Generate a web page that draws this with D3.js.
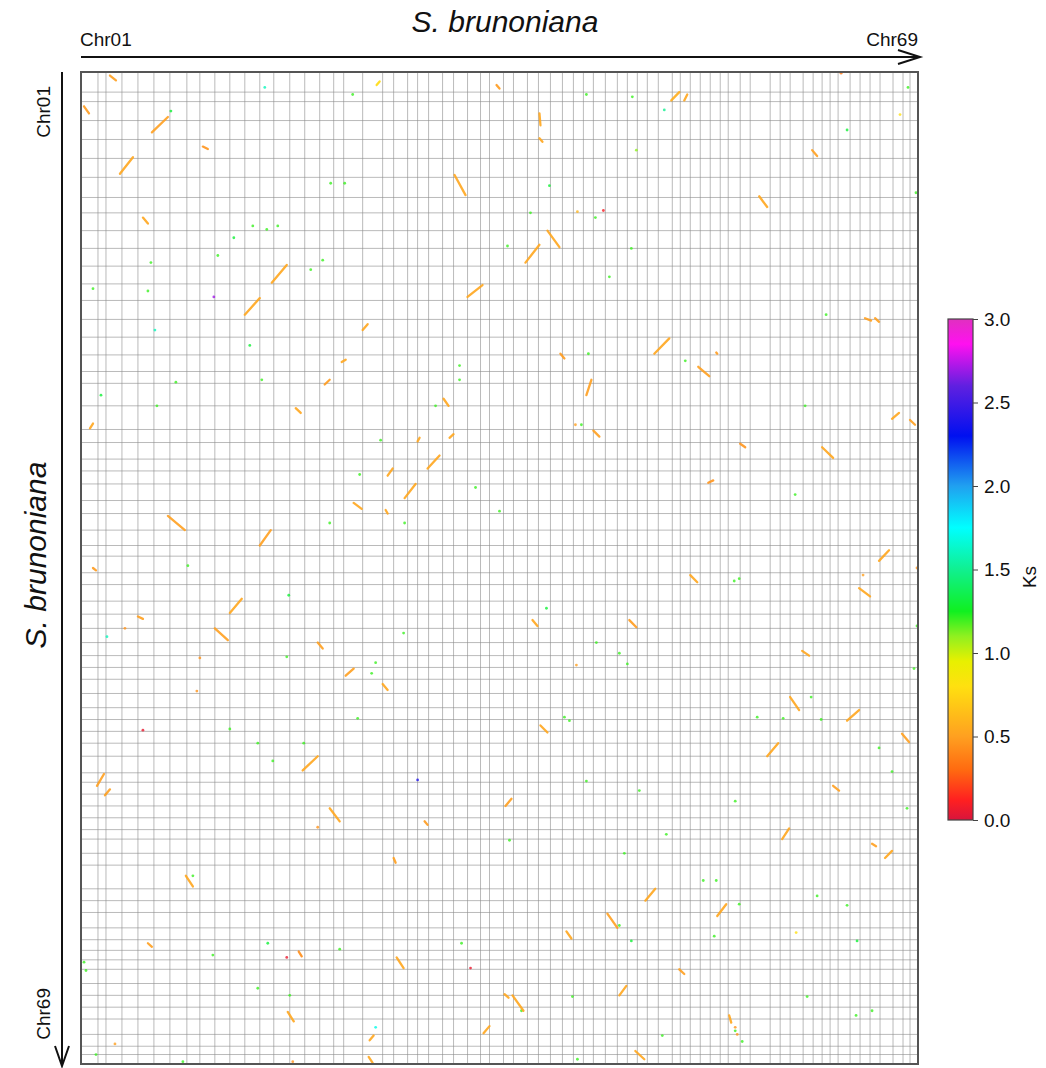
<!DOCTYPE html>
<html>
<head>
<meta charset="utf-8">
<script src="https://cdn.jsdelivr.net/npm/d3@7"></script>
<style>
  html, body { margin: 0; padding: 0; background: #fff; }
  svg { display: block; font-family: "Liberation Sans", Arial, sans-serif; }
</style>
</head>
<body>
<svg id="chart" width="1046" height="1068"></svg>
<script>
// ---------------- data ----------------
const speciesName = "S. brunoniana";
const endLabels = ["Chr01", "Chr69"];
// relative chromosome lengths (same genome on both axes), Chr01..Chr69
const chrLengths = [17,8,16,16,16,16,17,13,15,15,15,15,14,16,15,15,14,10,19,20,
  11,14,10,11,14,11,14,13,9,14,10,14,11,12,12,11,10,10,12,12,
  10,10,10,11,14,8,10,10,10,10,8,12,10,20,10,10,13,10,9,8,
  8,12,10,10,10,13,10,7,8];
// syntenic blocks: [x1, y1, x2, y2, Ks] in genome coordinates
const blocks = [
  [29,3,35,7,0.42],[3,29,8,35,0.40],[71,51,87,38,0.42],[39,86,52,72,0.45],
  [122,63,127,65,0.38],[62,123,67,128,0.45],[296,11,299,8,0.7],[416,11,419,14,0.40],
  [374,87,385,104,0.45],[445,161,459,146,0.45],[467,134,479,148,0.45],[387,190,402,180,0.45],
  [591,24,599,17,0.48],[604,24,607,19,0.45],[459,35,460,45,0.45],[459,56,462,59,0.45],
  [732,66,737,71,0.42],[679,105,687,114,0.45],[164,205,179,191,0.45],[191,178,206,163,0.45],
  [282,218,287,213,0.45],[261,245,265,243,0.45],[244,264,249,260,0.40],[215,284,220,288,0.45],
  [363,276,368,282,0.45],[480,238,484,242,0.40],[574,238,589,225,0.45],[506,273,511,260,0.42],
  [618,249,629,257,0.42],[636,237,637,238,0.40],[513,303,519,308,0.42],[660,314,665,317,0.38],
  [742,317,753,326,0.45],[785,208,791,210,0.42],[795,208,799,211,0.42],[812,293,819,288,0.45],
  [830,294,835,298,0.42],[9,301,12,297,0.45],[87,375,104,387,0.42],[179,400,190,387,0.42],
  [324,360,335,348,0.45],[307,341,312,335,0.45],[347,335,359,324,0.45],[337,312,339,309,0.45],
  [273,364,281,369,0.45],[305,370,307,373,0.45],[369,309,373,306,0.45],[628,347,633,345,0.38],
  [12,419,15,421,0.40],[57,460,62,462,0.42],[149,457,161,445,0.45],[134,470,147,480,0.42],
  [237,482,242,487,0.42],[265,510,273,504,0.42],[302,517,307,522,0.45],[610,425,617,431,0.45],
  [549,463,556,469,0.40],[452,463,457,468,0.45],[799,413,809,404,0.45],[779,436,790,443,0.45],
  [722,489,729,493,0.45],[710,528,719,539,0.45],[767,548,779,539,0.45],[822,559,829,566,0.42],
  [687,578,698,567,0.45],[460,552,467,558,0.45],[222,590,237,578,0.45],[16,603,23,593,0.42],
  [24,611,29,606,0.42],[249,622,259,633,0.45],[344,633,347,636,0.40],[425,620,431,614,0.42],
  [702,648,709,639,0.45],[753,603,759,607,0.42],[805,664,812,658,0.45],[792,652,796,654,0.42],
  [105,679,112,688,0.45],[313,664,315,668,0.42],[67,736,71,739,0.42],[218,743,221,747,0.35],
  [316,748,323,757,0.45],[486,726,491,732,0.45],[527,711,537,723,0.42],[565,700,575,690,0.45],
  [637,713,646,703,0.45],[599,758,604,762,0.42],[539,780,546,772,0.45],[432,780,443,793,0.45],
  [424,779,428,782,0.45],[403,812,409,806,0.45],[207,794,213,802,0.45],[289,818,293,814,0.45],
  [288,832,292,837,0.45],[555,827,564,834,0.45],[649,797,651,803,0.45]
];
// isolated anchor pairs: [x, y, Ks]
const anchors = [
  [237,638,0.45],[119,495,0.45],[116,523,0.45],[496,501,0.5],[523,117,0.1],[497,118,0.6],
  [133,190,2.7],[495,298,0.5],[783,425,0.5],[837,419,0.45],[44,470,0.45],[761,1,0.35],
  [820,36,0.8],[655,807,0.45],[657,813,0.45],[34,821,0.5],[212,836,0.45],[716,727,0.8],
  [184,13,1.6],[272,19,1.2],[506,19,1.2],[552,21,1.2],[556,66,1.1],[584,32,1.5],
  [767,49,1.3],[828,13,1.2],[90,33,1.3],[250,94,1.2],[264,94,1.2],[469,96,1.3],
  [450,119,1.2],[515,123,1.2],[172,130,1.2],[197,130,1.2],[186,133,1.2],[153,140,1.3],
  [137,155,1.2],[70,161,1.2],[12,183,1.2],[67,185,1.2],[230,167,1.2],[242,159,1.2],
  [427,147,1.2],[529,173,1.2],[551,149,1.2],[836,102,1.2],[746,205,1.2],[74,218,1.6],
  [169,231,1.3],[95,262,1.2],[181,260,1.2],[379,248,1.2],[379,260,1.2],[20,273,1.3],
  [76,282,1.2],[508,238,1.2],[605,244,1.2],[725,282,1.2],[501,298,1.2],[300,311,1.2],
  [279,340,1.2],[355,282,1.2],[395,351,1.2],[419,371,1.2],[249,381,1.2],[324,381,1.2],
  [715,357,1.2],[107,417,1.2],[208,442,1.3],[654,430,1.2],[659,428,1.2],[466,453,1.3],
  [26,477,1.6],[206,494,1.2],[295,499,1.2],[291,508,1.2],[323,474,1.2],[516,482,1.2],
  [547,500,1.2],[539,491,1.2],[837,468,1.2],[834,504,1.2],[149,555,1.2],[177,567,1.2],
  [62,556,0.05],[484,545,1.2],[489,548,1.2],[677,545,1.2],[703,546,1.2],[731,528,1.2],
  [741,547,1.2],[799,571,1.2],[192,582,1.2],[223,567,1.2],[277,546,1.2],[337,598,2.4],
  [506,599,1.2],[559,607,1.2],[655,616,1.2],[812,591,1.2],[827,622,1.2],[112,679,1.2],
  [429,649,1.2],[544,660,1.2],[586,644,1.2],[636,683,1.2],[623,683,1.2],[767,704,1.2],
  [777,734,1.3],[187,736,1.3],[259,741,1.2],[381,736,1.2],[390,757,0.05],[206,748,0.05],
  [132,746,1.2],[539,721,1.2],[551,734,1.3],[634,730,1.2],[659,703,1.2],[3,752,1.2],
  [5,759,1.2],[102,836,1.2],[492,781,1.2],[441,793,1.2],[295,807,1.7],[655,810,1.2],
  [727,781,1.2],[792,793,1.2],[776,797,1.2],[497,834,1.2],[582,814,1.2],[177,774,1.2],
  [209,780,1.2],[15,830,1.2],[662,819,1.2],[737,696,1.2]
];
// colour bar
const ksTicks = [0.0, 0.5, 1.0, 1.5, 2.0, 2.5, 3.0];
const ksStops  = [0.0, 0.12, 0.3, 0.5, 0.8, 0.95, 1.1, 1.25, 1.5, 1.75, 2.0, 2.3, 2.6, 2.85, 3.0];
const ksColors = ["#d8143c","#ff2020","#ff6a10","#ffa020","#ffe010","#e8f000","#90f020",
  "#10f020","#10f090","#00ffff","#20a0f0","#0010f0","#6020e0","#ff10f0","#e030c0"];

// ---------------- drawing ----------------
const svg = d3.select("#chart");
const total = d3.sum(chrLengths);
const plot = { left: 81, right: 918, top: 72, bottom: 1064 };
const x = d3.scaleLinear().domain([0, total]).range([plot.left, plot.right]);
const y = d3.scaleLinear().domain([0, total]).range([plot.top, plot.bottom]);
const color = d3.scaleLinear().domain(ksStops).range(ksColors).interpolate(d3.interpolateRgb).clamp(true);

svg.append("rect").attr("width", 1046).attr("height", 1068).attr("fill", "#fff");

const bounds = d3.cumsum(chrLengths).slice(0, -1);
const grid = svg.append("g").attr("stroke", "#8c8c8c").attr("stroke-width", 1).attr("stroke-opacity", 0.6);
grid.selectAll("line.v").data(bounds).join("line")
  .attr("x1", d => x(d)).attr("x2", d => x(d))
  .attr("y1", plot.top).attr("y2", plot.bottom);
grid.selectAll("line.h").data(bounds).join("line")
  .attr("y1", d => y(d)).attr("y2", d => y(d))
  .attr("x1", plot.left).attr("x2", plot.right);

svg.append("g").selectAll("circle").data(anchors).join("circle")
  .attr("cx", d => x(d[0])).attr("cy", d => y(d[1])).attr("r", 1.4)
  .attr("fill", d => color(d[2])).attr("fill-opacity", 0.8);

svg.append("g").attr("stroke-linecap", "round").selectAll("line").data(blocks).join("line")
  .attr("x1", d => x(d[0])).attr("y1", d => y(d[1]))
  .attr("x2", d => x(d[2])).attr("y2", d => y(d[3]))
  .attr("stroke", d => color(d[4] + 0.08)).attr("stroke-width", 2.3).attr("stroke-opacity", 0.9);

svg.append("rect")
  .attr("x", plot.left).attr("y", plot.top)
  .attr("width", plot.right - plot.left).attr("height", plot.bottom - plot.top)
  .attr("fill", "none").attr("stroke", "#555").attr("stroke-width", 2);

// axis arrows and labels
const ax = svg.append("g").attr("stroke", "#111").attr("stroke-width", 2).attr("fill", "none");
ax.append("line").attr("x1", plot.left).attr("x2", plot.right + 2).attr("y1", 57).attr("y2", 57);
ax.append("polyline").attr("points", `${plot.right - 20},50 ${plot.right + 2},57 ${plot.right - 20},64`);
ax.append("line").attr("x1", 62).attr("x2", 62).attr("y1", plot.top).attr("y2", 1066);
ax.append("polyline").attr("points", `55,1046 62,1066 69,1046`);

svg.append("text").attr("x", 505).attr("y", 32).attr("text-anchor", "middle")
  .attr("font-size", 30).attr("font-style", "italic").attr("fill", "#111").text(speciesName);
svg.append("text").attr("x", plot.left - 1).attr("y", 46).attr("font-size", 19).attr("fill", "#111").text(endLabels[0]);
svg.append("text").attr("x", plot.right).attr("y", 46).attr("text-anchor", "end").attr("font-size", 19).attr("fill", "#111").text(endLabels[1]);

svg.append("text").attr("transform", "translate(46,555) rotate(-90)").attr("text-anchor", "middle")
  .attr("font-size", 30).attr("font-style", "italic").attr("fill", "#111").text(speciesName);
svg.append("text").attr("transform", "translate(50,86) rotate(-90)").attr("text-anchor", "end")
  .attr("font-size", 19).attr("fill", "#111").text(endLabels[0]);
svg.append("text").attr("transform", "translate(50,988) rotate(-90)").attr("text-anchor", "end")
  .attr("font-size", 19).attr("fill", "#111").text(endLabels[1]);

// colour bar
const cb = { x: 948, w: 25, top: 319, bottom: 820 };
const ks = d3.scaleLinear().domain([0, 3]).range([cb.bottom, cb.top]);
const grad = svg.append("defs").append("linearGradient").attr("id", "ksgrad")
  .attr("x1", 0).attr("y1", 1).attr("x2", 0).attr("y2", 0);
grad.selectAll("stop").data(ksStops).join("stop")
  .attr("offset", d => d / 3).attr("stop-color", (d, i) => ksColors[i]);
svg.append("rect").attr("x", cb.x).attr("y", cb.top).attr("width", cb.w).attr("height", cb.bottom - cb.top)
  .attr("fill", "url(#ksgrad)").attr("stroke", "#444").attr("stroke-width", 1.2);
const cbAxis = svg.append("g").attr("transform", `translate(${cb.x + cb.w},0)`)
  .call(d3.axisRight(ks).tickValues(ksTicks).tickFormat(d3.format(".1f")).tickSize(5).tickPadding(6));
cbAxis.select(".domain").remove();
cbAxis.selectAll("text").attr("font-size", 19).attr("fill", "#111").attr("font-family", "Liberation Sans, Arial, sans-serif");
cbAxis.selectAll("line").attr("stroke", "#444");
svg.append("text").attr("transform", "translate(1036,577) rotate(-90)").attr("text-anchor", "middle")
  .attr("font-size", 19).attr("fill", "#111").text("Ks");
</script>
</body>
</html>
